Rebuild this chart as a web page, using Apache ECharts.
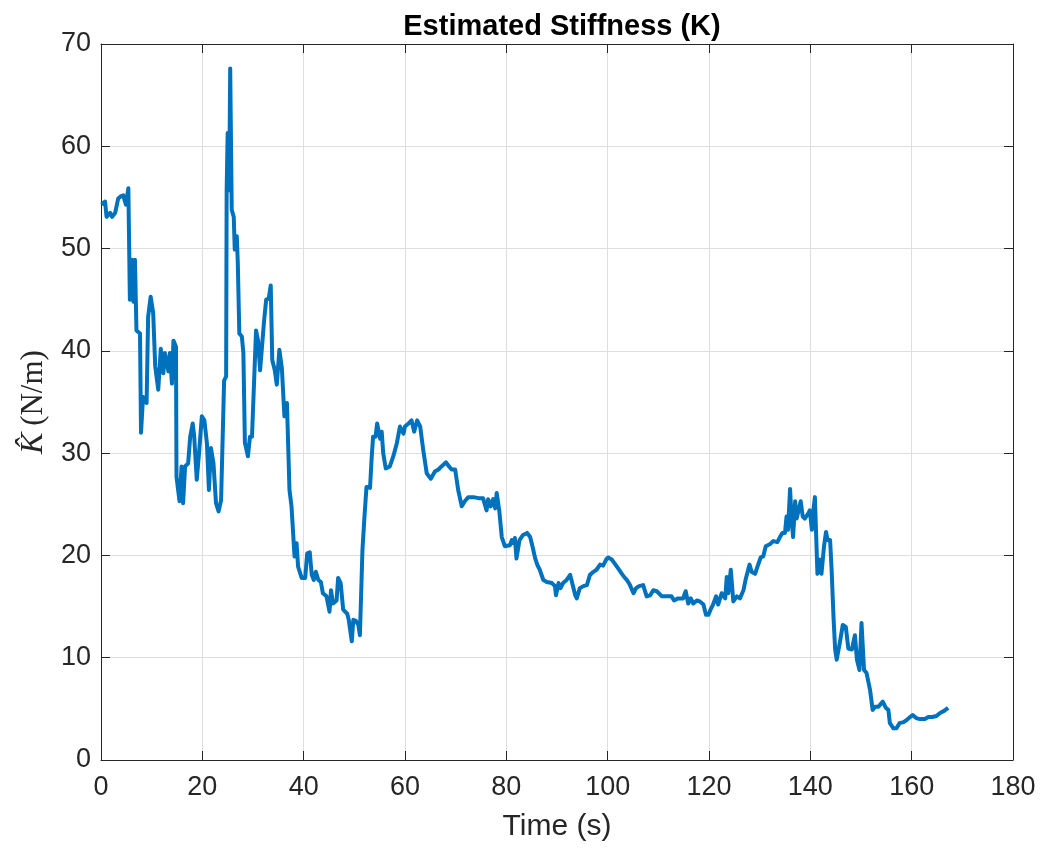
<!DOCTYPE html>
<html>
<head>
<meta charset="utf-8">
<script src="https://cdn.jsdelivr.net/npm/echarts@6/dist/echarts.min.js"></script>
<style>
  html, body { margin: 0; padding: 0; background: #fff; }
  #chart { width: 1043px; height: 852px; }
</style>
</head>
<body>
<div id="chart"></div>
<script>
// values (time in s, stiffness in N/m)
const timeS = [
  0.1, 0.8, 1.1, 1.8, 2.2, 2.8, 3.4, 3.9, 4.4, 4.9, 5.4, 5.7, 6.1, 6.4, 6.7, 7.0, 7.7, 7.9, 8.3, 9.0,
  9.3, 9.8, 10.3, 10.7, 11.3, 11.8, 12.3, 12.6, 13.3, 13.6, 14.0, 14.3, 14.8, 14.9, 15.5, 15.9, 16.2, 16.6, 17.2, 17.6,
  18.1, 18.4, 18.9, 19.4, 19.9, 20.4, 20.9, 21.3, 21.7, 22.2, 22.7, 23.2, 23.7, 24.3, 24.7, 24.8, 25.0, 25.3, 25.5, 25.8,
  26.2, 26.4, 26.8, 27.0, 27.3, 27.8, 28.1, 28.4, 29.0, 29.4, 29.8, 30.6, 31.0, 31.4, 31.7, 32.2, 32.6, 33.1, 33.5, 33.8,
  34.3, 34.7, 35.2, 35.7, 36.2, 36.7, 37.2, 37.6, 38.2, 38.6, 38.9, 39.6, 40.3, 40.7, 41.2, 41.6, 42.0, 42.4, 42.9, 43.4,
  43.8, 44.5, 45.1, 45.4, 45.8, 46.5, 46.8, 47.3, 47.8, 48.6, 48.9, 49.5, 49.8, 50.3, 50.8, 51.1, 51.6, 52.0, 52.4, 53.1,
  53.4, 53.7, 54.2, 54.5, 55.1, 55.4, 55.7, 56.2, 57.0, 57.7, 58.4, 59.0, 59.7, 60.0, 60.7, 61.3, 61.8, 62.4, 63.0, 63.6,
  64.3, 65.1, 65.9, 66.6, 67.2, 68.1, 68.7, 69.2, 69.9, 70.5, 71.2, 71.8, 72.5, 73.5, 74.5, 75.4, 76.1, 76.4, 76.9, 77.4,
  77.8, 78.1, 78.6, 79.1, 79.7, 80.7, 81.1, 81.4, 81.7, 82.0, 82.6, 83.3, 84.1, 84.7, 85.2, 85.7, 86.1, 86.6, 87.3, 88.0,
  89.0, 89.6, 89.8, 90.3, 90.7, 91.2, 91.9, 92.6, 93.1, 93.6, 93.9, 94.5, 95.2, 95.9, 96.5, 97.2, 97.8, 98.5, 99.1, 99.7,
  100.1, 100.8, 101.4, 102.1, 102.8, 103.4, 103.8, 104.4, 105.1, 105.6, 106.2, 107.0, 107.7, 108.4, 109.0, 109.7, 110.7, 111.6, 112.6, 113.1,
  113.9, 114.9, 115.4, 115.9, 116.4, 116.9, 117.6, 118.2, 118.9, 119.4, 119.9, 120.3, 120.8, 121.4, 121.8, 122.5, 123.2, 123.5, 123.8, 124.3,
  124.8, 125.5, 126.1, 126.8, 127.3, 128.0, 128.4, 129.1, 129.5, 130.2, 130.7, 131.2, 132.0, 132.7, 133.5, 134.0, 134.5, 135.0, 135.3, 135.6,
  136.0, 136.3, 136.6, 137.0, 137.3, 137.6, 138.1, 138.5, 138.9, 139.6, 139.9, 140.3, 140.6, 140.9, 141.4, 141.8, 142.2, 142.7, 143.1, 143.4,
  143.9, 144.2, 144.6, 144.9, 145.2, 145.9, 146.4, 147.0, 147.5, 148.2, 148.8, 149.2, 149.7, 150.1, 150.6, 151.1, 151.8, 152.3, 152.8, 153.4,
  154.3, 154.9, 155.4, 155.7, 156.4, 157.0, 157.6, 158.4, 159.0, 159.7, 160.2, 160.9, 161.6, 162.6, 163.3, 164.1, 164.9, 165.6, 166.4, 167.2
];
const stiffness = [
  54.3, 54.6, 53.1, 53.5, 53.1, 53.5, 54.9, 55.1, 55.2, 54.3, 55.9, 45.0, 48.9, 44.8, 48.9, 42.0, 41.7, 32.0, 35.5, 34.9,
  43.3, 45.3, 43.7, 38.5, 36.2, 40.2, 37.8, 39.8, 38.0, 39.8, 36.8, 41.0, 40.4, 27.7, 25.3, 28.7, 25.1, 28.7, 29.0, 31.6,
  32.9, 31.6, 27.4, 30.3, 33.6, 33.2, 31.0, 26.4, 30.5, 29.0, 25.1, 24.3, 25.4, 37.1, 37.5, 55.7, 61.3, 55.7, 67.6, 53.8,
  53.1, 49.9, 51.2, 48.6, 41.7, 41.4, 39.8, 31.0, 29.7, 31.6, 31.6, 42.0, 41.0, 38.1, 38.0, 43.0, 45.0, 45.1, 46.4, 39.1,
  38.1, 36.7, 40.1, 38.3, 33.6, 34.9, 26.4, 24.8, 19.9, 21.2, 18.9, 17.8, 17.8, 20.2, 20.3, 18.1, 17.6, 18.4, 17.6, 17.4,
  16.3, 16.0, 14.5, 16.6, 15.3, 15.6, 17.8, 17.3, 14.7, 14.3, 13.7, 11.6, 13.7, 13.6, 13.2, 12.2, 20.5, 23.8, 26.7, 26.6,
  29.4, 31.6, 31.6, 32.9, 31.4, 32.1, 30.0, 28.5, 28.7, 29.7, 31.0, 32.6, 31.9, 32.6, 32.9, 33.2, 32.1, 33.2, 32.6, 30.3,
  28.0, 27.5, 28.2, 28.4, 28.7, 29.1, 28.7, 28.4, 28.4, 26.4, 24.8, 25.3, 25.7, 25.7, 25.6, 25.6, 24.4, 25.5, 24.8, 25.5,
  24.6, 26.1, 24.4, 21.8, 20.9, 21.0, 21.5, 21.2, 21.7, 19.7, 21.5, 22.0, 22.2, 21.8, 20.8, 19.7, 19.1, 18.6, 17.6, 17.4,
  17.3, 17.0, 16.1, 17.3, 16.8, 17.3, 17.6, 18.1, 17.1, 16.1, 15.8, 16.8, 17.0, 17.1, 18.1, 18.4, 18.6, 19.1, 19.0, 19.6,
  19.8, 19.6, 19.2, 18.7, 18.2, 17.8, 17.6, 17.1, 16.3, 16.8, 17.0, 17.1, 16.0, 16.1, 16.6, 16.5, 16.0, 16.0, 16.0, 15.6,
  15.8, 15.8, 16.5, 15.3, 15.8, 15.3, 15.6, 15.5, 15.2, 14.2, 14.2, 14.7, 15.2, 16.0, 15.2, 16.3, 15.8, 17.9, 16.3, 18.6,
  15.5, 16.0, 15.8, 16.6, 17.8, 19.1, 18.4, 18.2, 18.8, 19.8, 19.9, 20.9, 21.1, 21.4, 21.3, 21.8, 22.2, 22.2, 23.8, 22.5,
  26.5, 23.5, 21.8, 25.3, 23.6, 23.7, 25.3, 23.8, 23.6, 24.1, 24.4, 22.5, 24.4, 25.7, 18.2, 19.6, 18.2, 20.9, 22.3, 21.5,
  21.5, 18.6, 13.7, 10.8, 9.8, 11.7, 13.2, 13.0, 10.9, 10.8, 12.2, 9.8, 8.8, 13.4, 8.8, 8.5, 6.8, 4.9, 5.2, 5.2,
  5.7, 5.1, 4.9, 3.6, 3.1, 3.1, 3.6, 3.7, 3.9, 4.2, 4.4, 4.1, 4.0, 4.0, 4.2, 4.2, 4.3, 4.6, 4.8, 5.1
];
const xTicks = { min: 0, max: 180, interval: 20 };
const yTicks = { min: 0, max: 70, interval: 10 };

const chart = echarts.init(document.getElementById('chart'));

const axisColor = '#262626';
const gridColor = '#dedede';
const fontFamily = '"Liberation Sans", Arial, Helvetica, sans-serif';
const serif = '"Liberation Serif", "DejaVu Serif", serif';

const baseAxis = {
  axisLine: { show: true, onZero: false, lineStyle: { color: axisColor, width: 1 } },
  axisTick: { show: true, inside: true, length: 9, lineStyle: { color: axisColor, width: 1 } }
};

chart.setOption({
  animation: false,
  backgroundColor: '#ffffff',
  title: {
    text: 'Estimated Stiffness (K)',
    left: 557,
    top: 7,
    textAlign: 'center',
    textStyle: { fontFamily: fontFamily, fontSize: 29, fontWeight: 'bold', color: '#000' }
  },
  grid: { left: 101, right: 30, top: 44, bottom: 92, containLabel: false },
  xAxis: [{
    ...baseAxis,
    type: 'value',
    min: xTicks.min, max: xTicks.max, interval: xTicks.interval,
    name: 'Time (s)',
    nameLocation: 'middle',
    nameGap: 52,
    nameTextStyle: { fontFamily: fontFamily, fontSize: 30, color: axisColor },
    axisLabel: { fontFamily: fontFamily, fontSize: 27, color: axisColor, margin: 14 },
    splitLine: { show: true, lineStyle: { color: gridColor, width: 1 } }
  }, {
    ...baseAxis,
    type: 'value', position: 'top',
    min: xTicks.min, max: xTicks.max, interval: xTicks.interval,
    axisLabel: { show: false }, splitLine: { show: false }
  }],
  yAxis: [{
    ...baseAxis,
    type: 'value',
    min: yTicks.min, max: yTicks.max, interval: yTicks.interval,
    name: '{k|K\u0302}  {n|(N/m)}',
    nameLocation: 'middle',
    nameGap: 50,
    nameRotate: 90,
    nameTextStyle: {
      rich: {
        k: { fontFamily: serif, fontStyle: 'italic', fontSize: 32, color: axisColor },
        n: { fontFamily: serif, fontSize: 31, color: axisColor }
      }
    },
    axisLabel: { fontFamily: fontFamily, fontSize: 27, color: axisColor, margin: 10 },
    splitLine: { show: true, lineStyle: { color: gridColor, width: 1 } }
  }, {
    ...baseAxis,
    type: 'value', position: 'right',
    min: yTicks.min, max: yTicks.max, interval: yTicks.interval,
    axisLabel: { show: false }, splitLine: { show: false }
  }],
  series: [{
    type: 'line',
    data: timeS.map((t, i) => [t, stiffness[i]]),
    showSymbol: false,
    symbol: 'none',
    lineStyle: { color: '#0072BD', width: 4, join: 'round' },
    z: 5
  }]
});
</script>
</body>
</html>
